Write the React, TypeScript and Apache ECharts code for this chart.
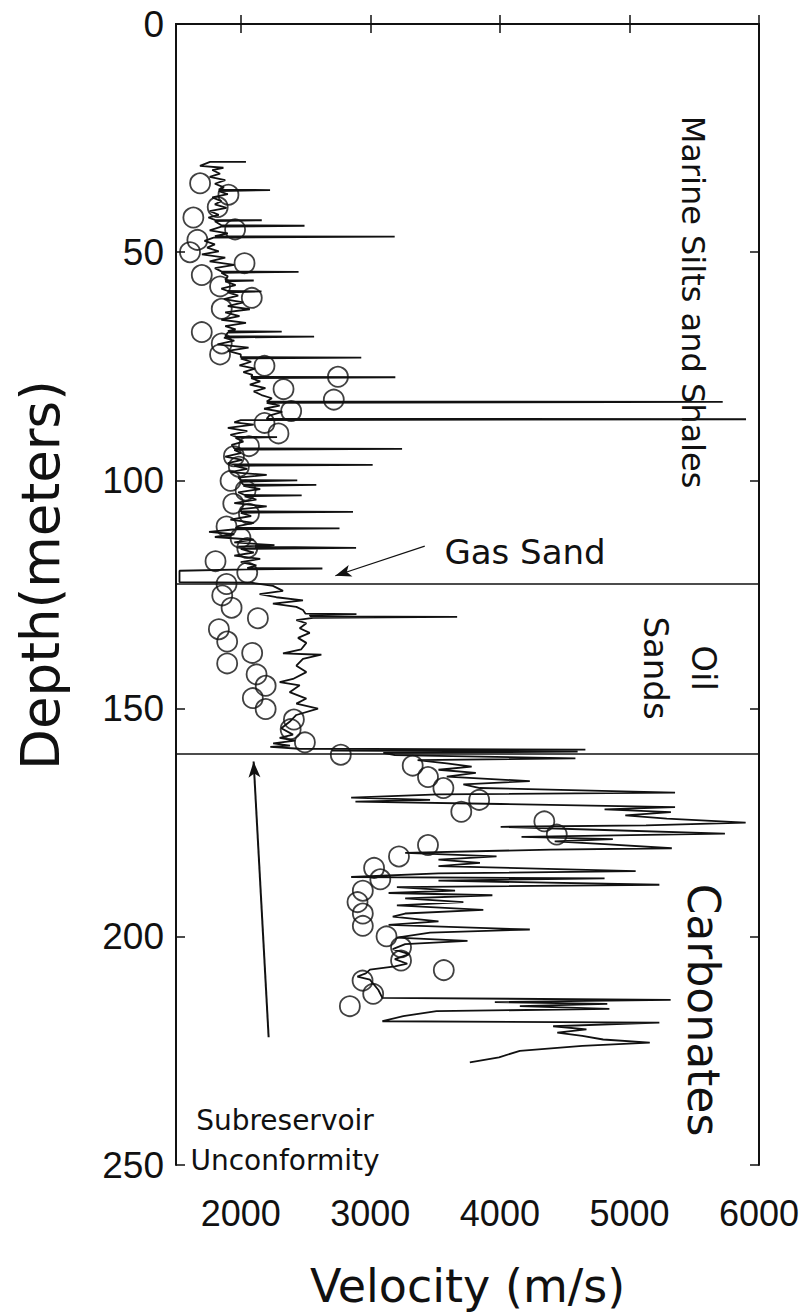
import React, { useEffect, useRef } from "react";
import * as echarts from "echarts";

// Sonic log: depth (m) and velocity (m/s), in depth order
const logDepth = [
  30.2, 30.2, 31.1, 31.5, 32.0, 32.8, 33.5, 34.2, 35.0, 35.8, 36.3, 36.4, 36.6, 37.3, 38.0, 38.8, 39.5, 40.3, 41.0, 41.8,
  42.4, 42.9, 43.0, 43.2, 44.1, 44.2, 44.4, 45.2, 45.9, 46.5, 46.6, 46.8, 47.5, 48.3, 49.0, 49.8, 50.5, 51.2, 52.0, 52.8,
  53.5, 54.2, 54.3, 54.5, 55.3, 56.1, 56.2, 56.4, 57.2, 58.0, 58.5, 58.6, 58.8, 59.5, 60.3, 61.0, 61.8, 62.5, 63.2, 64.0,
  64.8, 65.5, 66.2, 66.9, 67.3, 67.4, 67.6, 68.4, 68.5, 68.7, 69.4, 70.2, 70.9, 71.6, 72.4, 73.0, 73.1, 73.3, 74.0, 74.8,
  75.5, 76.3, 76.9, 77.3, 77.4, 77.6, 78.3, 79.0, 79.8, 80.5, 81.3, 82.0, 82.7, 82.8, 83.0, 83.6, 84.3, 85.0, 85.8, 86.5,
  86.6, 86.8, 87.3, 87.8, 88.5, 89.2, 90.0, 90.4, 90.5, 90.7, 91.5, 92.2, 93.0, 93.1, 93.3, 94.0, 94.8, 95.5, 96.2, 96.5,
  96.6, 96.8, 97.5, 98.2, 98.8, 99.4, 99.9, 100.0, 100.3, 100.9, 101.0, 101.2, 101.9, 102.6, 103.2, 103.3, 103.5, 104.2, 105.0, 105.7,
  106.3, 106.8, 106.9, 107.1, 107.8, 108.6, 109.3, 110.0, 110.4, 110.5, 110.7, 111.3, 111.8, 112.4, 113.0, 113.6, 114.2, 114.5, 114.8, 115.0,
  115.8, 116.5, 117.2, 117.9, 118.6, 119.2, 119.3, 119.5, 119.8, 122.3, 122.4, 123.1, 124.2, 124.9, 125.6, 126.3, 127.0, 127.7, 128.4, 129.2,
  129.3, 129.5, 129.8, 129.9, 130.1, 130.6, 131.3, 132.4, 133.4, 134.5, 135.6, 137.0, 137.9, 138.2, 139.1, 140.6, 142.0, 143.5, 144.2, 144.9,
  146.4, 147.8, 148.9, 150.0, 151.4, 152.9, 154.3, 155.7, 156.4, 157.0, 157.6, 158.1, 158.4, 158.8, 159.0, 159.2, 159.4, 159.7, 160.2, 160.9,
  161.3, 162.0, 162.7, 163.4, 164.1, 164.9, 165.9, 166.6, 167.4, 168.4, 168.8, 169.5, 170.0, 170.4, 170.9, 171.6, 172.1, 172.7, 173.4, 174.1,
  175.0, 175.6, 175.9, 176.6, 177.4, 178.1, 178.6, 179.1, 179.7, 180.6, 180.9, 181.6, 182.4, 183.1, 183.8, 184.5, 185.6, 186.1, 186.9, 187.2,
  187.7, 188.6, 189.1, 189.9, 190.4, 190.9, 191.6, 192.4, 193.1, 194.1, 194.9, 195.6, 196.6, 197.4, 198.4, 199.1, 200.2, 200.9, 201.6, 202.7,
  203.8, 204.9, 205.9, 206.5, 207.2, 208.0, 208.7, 209.4, 211.6, 213.4, 213.8, 214.3, 214.7, 215.2, 215.8, 216.3, 217.4, 218.5, 218.8, 219.6,
  220.3, 221.0, 221.7, 222.5, 223.2, 223.9, 225.0, 226.4, 227.5,
];
const logVelocity = [
  2040, 1763, 1685, 1866, 1780, 1840, 1760, 1880, 1800, 1870, 1830, 2226, 1830, 1900, 1780, 1850, 1800, 1890, 1760, 1830,
  1750, 1800, 2162, 1800, 1850, 2492, 1850, 1760, 1900, 1800, 3188, 1790, 1720, 1800, 1740, 1830, 1700, 1880, 1760, 1950,
  1800, 1850, 2446, 1850, 1900, 1880, 2100, 1880, 1960, 1850, 1900, 2160, 1900, 1980, 1870, 2020, 1900, 2070, 1880, 1990,
  1850, 2040, 1880, 1960, 1900, 2316, 1900, 1880, 2566, 1870, 1950, 1820, 2060, 1900, 2000, 2000, 2930, 2000, 2080, 1990,
  2110, 2020, 2090, 2080, 3193, 2080, 2150, 2070, 2190, 2100, 2160, 2240, 2200, 5720, 2200, 2300, 2180, 2320, 2220, 2200,
  5900, 2000, 1950, 2100, 1900, 2050, 1920, 1960, 2280, 1960, 2020, 1930, 1950, 3245, 1950, 2000, 1880, 2010, 1900, 1950,
  3018, 1950, 2050, 1920, 2200, 1980, 2000, 2436, 2000, 2020, 2583, 2020, 2150, 1980, 2030, 2470, 2030, 2120, 1950, 2200,
  2000, 2000, 2866, 2000, 2080, 1920, 2100, 1980, 1960, 2762, 1960, 1755, 1950, 1800, 2100, 1950, 2260, 1980, 2890, 2000,
  2100, 1950, 2150, 2000, 2120, 2050, 2630, 2050, 1527, 1527, 2080, 2248, 2326, 2145, 2274, 2480, 2248, 2429, 2480, 2500,
  2893, 2532, 2540, 3670, 2558, 2429, 2506, 2455, 2532, 2442, 2506, 2467, 2326, 2622, 2480, 2429, 2506, 2403, 2300, 2455,
  2377, 2506, 2429, 2596, 2429, 2377, 2313, 2403, 2300, 2420, 2250, 2380, 2228, 2450, 4660, 2700, 4600, 3100, 3189, 4583,
  3365, 3590, 3782, 3526, 3814, 3590, 4231, 3718, 3846, 5352, 3526, 2852, 3461, 2885, 4006, 5352, 4808, 5320, 4968, 5288,
  5897, 5128, 4006, 4808, 5737, 4167, 4872, 4423, 4808, 5327, 4391, 3269, 3974, 3526, 3846, 3526, 5048, 3526, 2852, 4808,
  3526, 5231, 3205, 3654, 3141, 3942, 3269, 3718, 3205, 3872, 3269, 3173, 3526, 3141, 4231, 3461, 3205, 3750, 3269, 3173,
  3301, 3189, 3285, 3190, 2997, 2965, 2900, 2997, 3061, 3093, 5318, 3961, 4829, 4154, 4845, 3511, 3254, 3093, 5231, 4411,
  4668, 4443, 4636, 4797, 5157, 4636, 4154, 3993, 3768,
];

// Check-shot / sample velocities (open circles)
const sampleDepth = [
  34.9, 37.4, 40.1, 42.4, 45.0, 47.3, 50.0, 52.4, 55.0, 57.5, 60.0, 62.4, 67.5, 70.0, 72.4, 74.9, 77.3, 80.0, 82.3, 84.8,
  87.4, 89.7, 92.5, 94.7, 97.0, 100.1, 102.2, 105.1, 107.3, 110.1, 112.6, 114.8, 117.7, 120.2, 122.7, 125.2, 127.9, 130.2, 132.6, 135.3,
  137.8, 140.1, 142.5, 145.0, 147.7, 150.1, 152.4, 154.5, 157.4, 160.1, 162.5, 165.0, 167.4, 170.0, 172.6, 174.7, 177.6, 179.9, 182.4, 184.9,
  187.4, 189.9, 192.4, 194.9, 197.6, 199.9, 202.3, 205.2, 207.3, 209.6, 212.5, 215.2,
];
const sampleVelocity = [
  1686, 1905, 1822, 1634, 1956, 1665, 1608, 2029, 1699, 1840, 2085, 1853, 1699, 1853, 1840, 2183, 2750, 2330, 2718, 2389,
  2183, 2291, 2063, 1947, 1985, 1921, 2037, 1942, 2063, 1890, 1998, 2050, 1805, 2050, 1890, 1857, 1929, 2132, 1831, 1895,
  2088, 1895, 2122, 2192, 2093, 2192, 2410, 2385, 2495, 2772, 3327, 3445, 3564, 3840, 3702, 4343, 4439, 3445, 3221, 3029,
  3077, 2942, 2901, 2942, 2942, 3125, 3237, 3237, 3567, 2940, 3022, 2842,
];

const xTickValues = [2000, 3000, 4000, 5000, 6000];
const zoneBoundaries = [122.6, 160];
// arrows: [fromVelocity, fromDepth, toVelocity, toDepth]
const gasArrow = [3420, 114.4, 2730, 120.9];
const unconformityArrow = [2215, 222, 2099, 161.6];

const FONT = "DejaVu Sans";
const TICK_FONT = "Liberation Sans";

export default function App() {
  const ref = useRef<HTMLDivElement>(null);
  useEffect(() => {
    if (!ref.current) return;
    const chart = echarts.init(ref.current, null, { renderer: "svg" });
    const logData = logDepth.map((d, i) => [logVelocity[i], d]);
    const sampleData = sampleDepth.map((d, i) => [sampleVelocity[i], d]);
    const axisLine = { show: true, lineStyle: { color: "#111", width: 2 } };
    const tick = { inside: true, length: 9, lineStyle: { color: "#111", width: 1.5 } };
    chart.setOption({
      animation: false,
      backgroundColor: "#fff",
      grid: { left: 176, right: 52, top: 24, bottom: 130 },
      xAxis: [
        {
          type: "value",
          min: 1500,
          max: 6000,
          position: "bottom",
          axisLine,
          splitLine: { show: false },
          axisTick: { ...tick, customValues: xTickValues },
          axisLabel: {
            customValues: xTickValues,
            formatter: (v: number) => String(v),
            margin: 30,
            fontSize: 36,
            color: "#111",
            fontFamily: TICK_FONT,
          },
          name: "Velocity (m/s)",
          nameLocation: "middle",
          nameGap: 98,
          nameTextStyle: { fontSize: 46, color: "#111", fontFamily: FONT },
        },
        {
          type: "value",
          min: 1500,
          max: 6000,
          position: "top",
          axisLine,
          splitLine: { show: false },
          axisTick: { ...tick, customValues: xTickValues },
          axisLabel: { show: false },
        },
      ],
      yAxis: [
        {
          type: "value",
          inverse: true,
          min: 0,
          max: 250,
          interval: 50,
          position: "left",
          axisLine,
          splitLine: { show: false },
          axisTick: tick,
          axisLabel: { margin: 12, fontSize: 37, color: "#111", fontFamily: TICK_FONT },
        },
        {
          type: "value",
          inverse: true,
          min: 0,
          max: 250,
          interval: 50,
          position: "right",
          axisLine,
          splitLine: { show: false },
          axisTick: tick,
          axisLabel: { show: false },
        },
      ],
      series: [
        {
          type: "line",
          data: logData,
          showSymbol: false,
          symbol: "none",
          lineStyle: { color: "#111", width: 1.8 },
          z: 2,
          markLine: {
            silent: true,
            symbol: "none",
            label: { show: false },
            lineStyle: { color: "#111", width: 1.6, type: "solid" },
            data: zoneBoundaries.map((d) => ({ yAxis: d })),
          },
        },
        {
          type: "scatter",
          data: sampleData,
          symbol: "circle",
          symbolSize: 20,
          itemStyle: { color: "rgba(0,0,0,0)", borderColor: "#111", borderWidth: 1.8 },
          z: 3,
        },
        {
          type: "line",
          data: [],
          markLine: {
            silent: true,
            symbol: ["none", "arrow"],
            symbolSize: [9, 16],
            label: { show: false },
            lineStyle: { color: "#111", width: 1.2, type: "solid" },
            data: [
              [{ coord: [gasArrow[0], gasArrow[1]] }, { coord: [gasArrow[2], gasArrow[3]] }],
              [
                { coord: [unconformityArrow[0], unconformityArrow[1]], lineStyle: { width: 2 } },
                { coord: [unconformityArrow[2], unconformityArrow[3]] },
              ],
            ],
          },
        },
      ],
      graphic: [
        {
          type: "text",
          x: 40,
          y: 575,
          rotation: Math.PI / 2,
          style: { text: "Depth(meters)", fontSize: 53, fontFamily: FONT, fill: "#111", align: "center", verticalAlign: "middle" },
        },
        {
          type: "text",
          x: 693,
          y: 302,
          rotation: -Math.PI / 2,
          style: { text: "Marine Silts and Shales", fontSize: 32, fontFamily: FONT, fill: "#111", align: "center", verticalAlign: "middle" },
        },
        {
          type: "text",
          x: 525,
          y: 552,
          style: { text: "Gas Sand", fontSize: 34, fontFamily: FONT, fill: "#111", align: "center", verticalAlign: "middle" },
        },
        {
          type: "text",
          x: 680,
          y: 668,
          rotation: -Math.PI / 2,
          style: { text: "Oil\nSands", fontSize: 34, lineHeight: 48, fontFamily: FONT, fill: "#111", align: "center", verticalAlign: "middle" },
        },
        {
          type: "text",
          x: 703,
          y: 1010,
          rotation: -Math.PI / 2,
          style: { text: "Carbonates", fontSize: 44, fontFamily: FONT, fill: "#111", align: "center", verticalAlign: "middle" },
        },
        {
          type: "text",
          x: 285,
          y: 1140,
          style: { text: "Subreservoir\nUnconformity", fontSize: 28, lineHeight: 40, fontFamily: FONT, fill: "#111", align: "center", verticalAlign: "middle" },
        },
      ],
    });
    return () => chart.dispose();
  }, []);
  return <div ref={ref} style={{ position: "absolute", left: 0, top: 0, width: 811, height: 1314 }} />;
}
